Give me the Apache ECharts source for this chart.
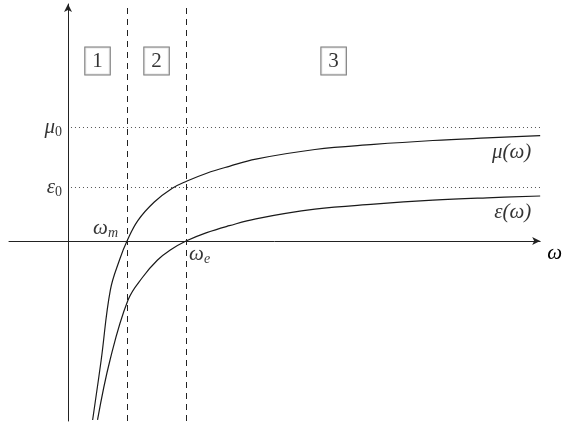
<!DOCTYPE html>
<html>
<head>
<meta charset="utf-8">
<title>mu and epsilon</title>
<script src="https://cdn.jsdelivr.net/npm/echarts@6/dist/echarts.min.js"></script>
<style>
  html, body { margin: 0; padding: 0; background: #fff; }
  #chart { width: 565px; height: 423px; }
</style>
</head>
<body>
<div id="chart"></div>
<script>
// curve readings (omega in units of omega_m, value in chart units)
const muX = [0.417, 0.562, 0.717, 0.878, 1.0, 1.183, 1.462, 1.767, 2.017, 2.35, 2.733, 3.183, 4.183, 5.183, 6.183, 7.1, 8.0]
const muY = [-2.983, -1.983, -0.817, -0.3, 0, 0.34, 0.65, 0.88, 1.0, 1.13, 1.245, 1.365, 1.525, 1.61, 1.675, 1.718, 1.755]
const epsX = [0.5, 0.712, 1.017, 1.267, 1.517, 1.733, 2.0, 2.35, 2.733, 3.183, 4.183, 5.183, 6.183, 7.1, 8.0]
const epsY = [-2.983, -1.983, -0.983, -0.6, -0.317, -0.15, 0, 0.14, 0.255, 0.37, 0.53, 0.615, 0.68, 0.72, 0.75]

// levels and frequencies
const mu0 = 1.9
const eps0 = 0.9
const omegaM = 1
const omegaE = 2

// region numbers
const regions = ['1', '2', '3']
const regionX = [0.5, 1.5, 4.5]

const mathFont = "'Liberation Serif', 'DejaVu Serif', serif"
const ink = '#1a1a1a'

const chart = echarts.init(document.getElementById('chart'))

function pairs (xs, ys) {
  return xs.map((x, i) => [x, ys[i]])
}

// invisible point carrying a text label
function tag (x, y, text, label) {
  return {
    value: [x, y],
    label: Object.assign({
      show: true,
      formatter: text,
      fontFamily: mathFont,
      fontStyle: 'italic',
      fontSize: 21,
      color: '#000',
      rich: {
        sub: { fontFamily: mathFont, fontStyle: 'normal', fontSize: 14, padding: [10, 0, 0, 0], color: '#000' },
        isub: { fontFamily: mathFont, fontStyle: 'italic', fontSize: 14, padding: [10, 0, 0, 0], color: '#000' }
      }
    }, label)
  }
}

const tags = [
  tag(0, mu0, 'μ{sub|0}', { align: 'right', verticalAlign: 'middle', position: [-6, 0] }),
  tag(0, eps0, 'ε{sub|0}', { align: 'right', verticalAlign: 'middle', position: [-6, 0] }),
  tag(omegaM, 0, 'ω{isub|m}', { align: 'right', verticalAlign: 'middle', position: [-9, -13] }),
  tag(omegaE, 0, 'ω{isub|e}', { align: 'left', verticalAlign: 'middle', position: [3, 13] }),
  tag(7.85, 1.467, 'μ(ω)', { align: 'right', verticalAlign: 'middle', position: [0, 0] }),
  tag(7.85, 0.483, 'ε(ω)', { align: 'right', verticalAlign: 'middle', position: [0, 0] })
]

const boxes = regions.map((r, i) => ({
  value: [regionX[i], 3],
  label: {
    show: true,
    formatter: r,
    position: [0, 0],
    align: 'center',
    verticalAlign: 'middle',
    fontFamily: mathFont,
    fontSize: 21,
    color: '#000',
    borderColor: '#555',
    borderWidth: 1,
    padding: [4, 7, 2, 7],
    backgroundColor: '#fff'
  }
}))

const option = {
  animation: false,
  grid: { left: 9, right: 15, top: 4, bottom: 2 },
  xAxis: {
    type: 'value',
    min: -1,
    max: 8,
    name: 'ω',
    nameLocation: 'end',
    nameGap: 7,
    nameTextStyle: {
      fontFamily: mathFont, fontStyle: 'italic', fontSize: 21, color: '#000',
      align: 'left', verticalAlign: 'top', padding: [2, 0, 0, 0]
    },
    splitLine: { show: false },
    axisTick: { show: false },
    axisLabel: { show: false },
    axisLine: {
      onZero: true,
      symbol: ['none', 'arrow'],
      symbolSize: [6, 8],
      lineStyle: { color: '#222', width: 1 }
    }
  },
  yAxis: {
    type: 'value',
    min: -3,
    max: 3.95,
    splitLine: { show: false },
    axisTick: { show: false },
    axisLabel: { show: false },
    axisLine: {
      onZero: true,
      symbol: ['none', 'arrow'],
      symbolSize: [6, 8],
      lineStyle: { color: '#222', width: 1 }
    }
  },
  series: [
    {
      name: 'mu',
      type: 'line',
      data: pairs(muX, muY),
      smooth: 0.4,
      showSymbol: false,
      lineStyle: { color: ink, width: 1.2 },
      markLine: {
        silent: true,
        symbol: 'none',
        label: { show: false },
        data: [
          [{ coord: [0.05, mu0] }, { coord: [8, mu0] }],
          [{ coord: [0.05, eps0] }, { coord: [8, eps0] }]
        ],
        lineStyle: { color: '#555', type: [1, 3], width: 1 }
      }
    },
    {
      name: 'eps',
      type: 'line',
      data: pairs(epsX, epsY),
      smooth: 0.4,
      showSymbol: false,
      lineStyle: { color: ink, width: 1.2 },
      markLine: {
        silent: true,
        symbol: 'none',
        label: { show: false },
        data: [{ xAxis: omegaM }, { xAxis: omegaE }],
        lineStyle: { color: '#222', type: [6, 5], width: 1 }
      }
    },
    {
      name: 'tags',
      type: 'scatter',
      symbolSize: 0,
      silent: true,
      clip: false,
      data: tags.concat(boxes)
    }
  ]
}

chart.setOption(option)
</script>
</body>
</html>
